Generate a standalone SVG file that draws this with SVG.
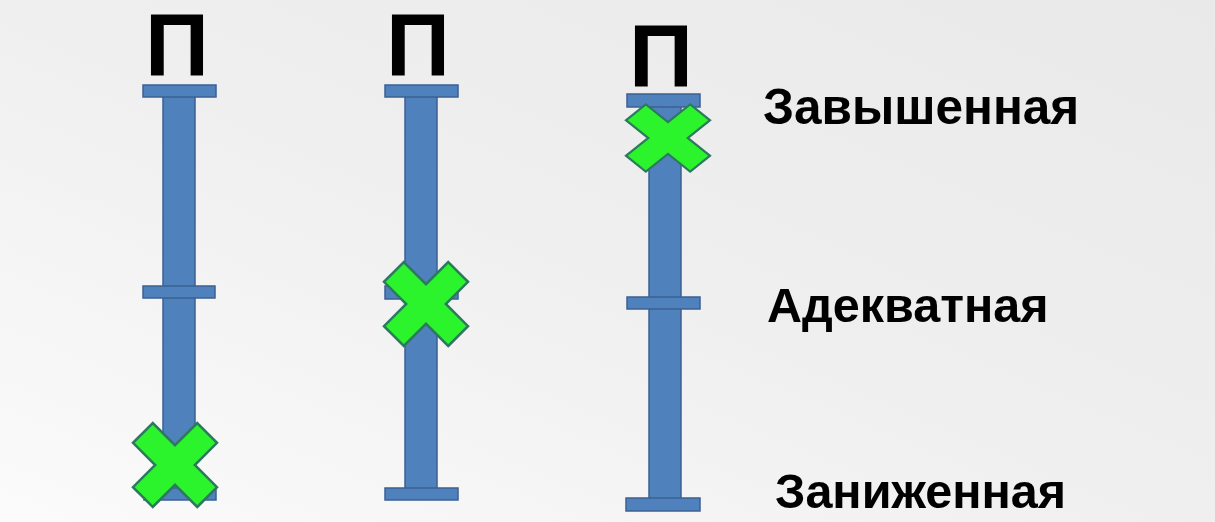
<svg xmlns="http://www.w3.org/2000/svg" width="1215" height="522" viewBox="0 0 1215 522">
  <defs>
    <linearGradient id="bg" x1="0" y1="1" x2="1" y2="0">
      <stop offset="0" stop-color="#fbfbfb"/>
      <stop offset="0.5" stop-color="#efefef"/>
      <stop offset="1" stop-color="#e9e9e9"/>
    </linearGradient>
    <polygon id="mul" points="22.2,42 42,22.2 19.8,0 42,-22.2 22.2,-42 0,-19.8 -22.2,-42 -42,-22.2 -19.8,0 -42,22.2 -22.2,42 0,19.8"/>
  </defs>
  <style>
    .bar { fill: #4f81bd; stroke: #3b6092; stroke-width: 1.5; }
    .cross { fill: #2cf42c; stroke: #2b7a5e; stroke-width: 2.5; stroke-linejoin: miter; }
    .p { font-family: "Liberation Sans", Arial, sans-serif; font-weight: bold; font-size: 89px; fill: #000; text-anchor: middle; }
    .lbl { font-family: "Liberation Sans", Arial, sans-serif; font-weight: bold; font-size: 48.5px; fill: #000; }
  </style>
  <rect x="0" y="0" width="1215" height="522" fill="url(#bg)"/>

  <g id="scale1">
    <text class="p" x="177" y="76">П</text>
    <rect class="bar" x="163" y="92" width="32" height="398"/>
    <rect class="bar" x="143" y="85" width="73" height="12"/>
    <rect class="bar" x="143" y="286" width="72" height="12"/>
    <rect class="bar" x="144" y="488" width="72" height="12"/>
    <use href="#mul" class="cross" transform="translate(175,465)"/>
  </g>

  <g id="scale2">
    <text class="p" x="418" y="76">П</text>
    <rect class="bar" x="405" y="92" width="32" height="398"/>
    <rect class="bar" x="385" y="85" width="73" height="12"/>
    <rect class="bar" x="385" y="286" width="73" height="13"/>
    <rect class="bar" x="385" y="488" width="73" height="12"/>
    <use href="#mul" class="cross" transform="translate(426,304)"/>
  </g>

  <g id="scale3">
    <text class="p" x="661" y="87">П</text>
    <rect class="bar" x="649" y="102" width="32" height="398"/>
    <rect class="bar" x="627" y="94" width="73" height="13"/>
    <rect class="bar" x="627" y="297" width="73" height="12"/>
    <rect class="bar" x="626" y="498" width="74" height="13"/>
    <use href="#mul" class="cross" transform="translate(668,138) scale(1,0.8)"/>
  </g>

  <g id="labels">
    <text class="lbl" x="763" y="124" style="font-size:49.5px">Завышенная</text>
    <text class="lbl" x="767" y="322">Адекватная</text>
    <text class="lbl" x="775" y="508">Заниженная</text>
  </g>
</svg>
